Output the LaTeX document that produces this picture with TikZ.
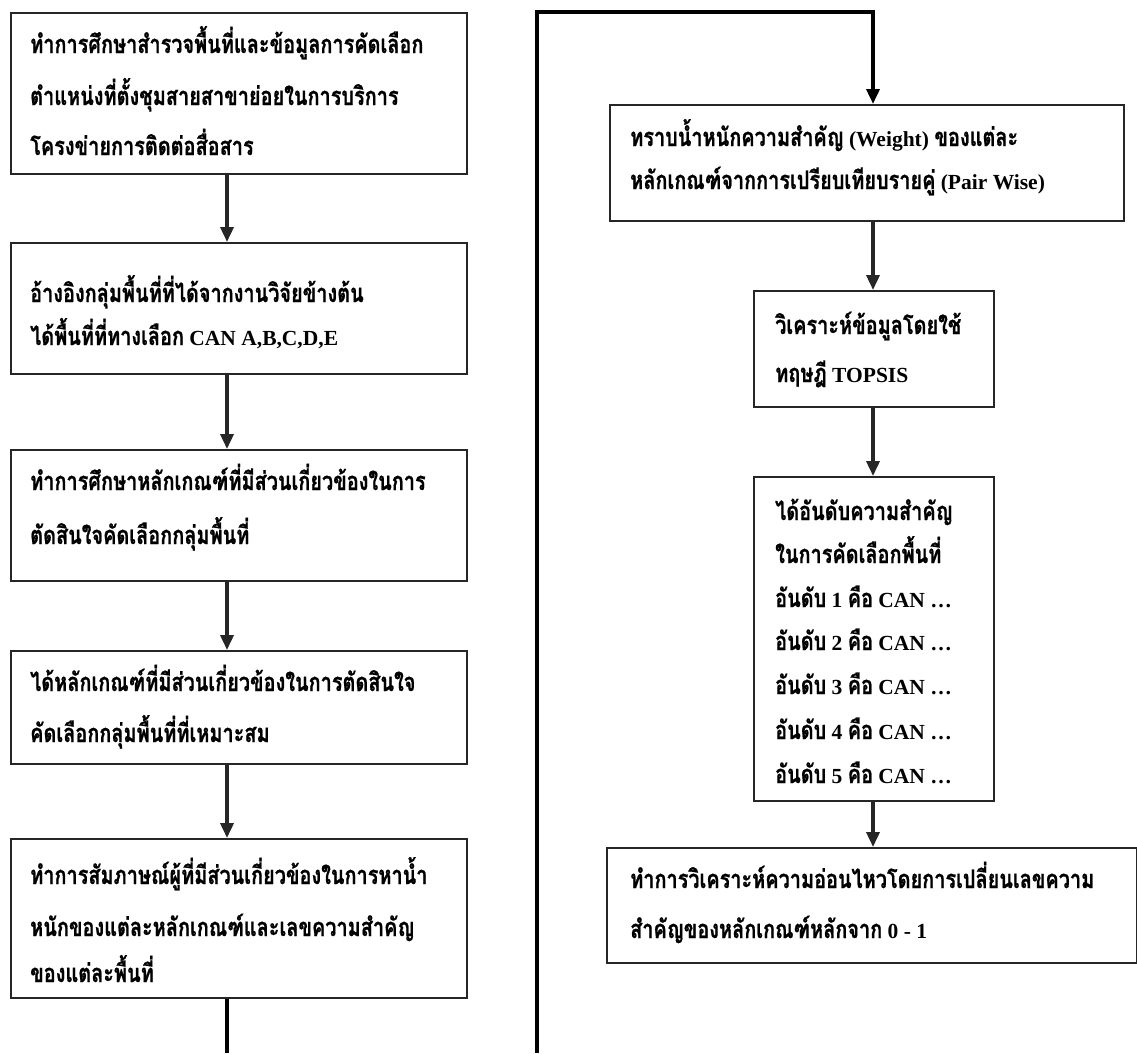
\documentclass[tikz,border=0pt]{standalone}
\usepackage{fontspec}
\setmainfont{Liberation Serif}
\newfontfamily\thaifont[Script=Thai,FakeStretch=0.78,FakeBold=0.7]{Loma}
\usetikzlibrary{arrows.meta}
\newcommand\thx[1]{{\thaifont\fontsize{25.5pt}{28pt}\selectfont #1}}
\tikzset{
  box/.style={draw=black!85, line width=1.8pt, inner sep=0pt, anchor=north west, fill=white},
  txt/.style={inner sep=0pt, anchor=base west, font=\fontsize{21.5pt}{24pt}\selectfont\bfseries},
  arr/.style={draw=black!85, line width=3.5pt, -{Triangle[width=13pt,length=15pt]}},
  conn/.style={draw=black, line width=3.5pt},
}
\begin{document}
\begin{tikzpicture}[x=1pt,y=-1pt]
\path[use as bounding box, fill=white] (0,0) rectangle (1137,1053);
% left column boxes
\node[box, minimum width=456pt, minimum height=161pt] (B1) at (10,12) {};
\node[box, minimum width=456pt, minimum height=131pt] (B2) at (10,242) {};
\node[box, minimum width=456pt, minimum height=131pt] (B3) at (10,449) {};
\node[box, minimum width=456pt, minimum height=113pt] (B4) at (10,650) {};
\node[box, minimum width=456pt, minimum height=159pt] (B5) at (10,838) {};
% right column boxes
\node[box, minimum width=514pt, minimum height=116pt] (B6) at (609,104) {};
\node[box, minimum width=240pt, minimum height=116pt] (B7) at (753,290) {};
\node[box, minimum width=240pt, minimum height=324pt] (B8) at (753,476) {};
\node[box, minimum width=530pt, minimum height=115pt] (B9) at (606,847) {};
% coordinates
\coordinate (cL) at (227,1053);
\coordinate (cV) at (537,1053);
\coordinate (cT) at (537,12);
\coordinate (cR) at (873,12);
% texts
\node[txt] (t11) at (30,53) {\thx{ทำการศึกษาสำรวจพื้นที่และข้อมูลการคัดเลือก}};
\node[txt] (t12) at (30,105) {\thx{ตำแหน่งที่ตั้งชุมสายสาขาย่อยในการบริการ}};
\node[txt] (t13) at (30,155) {\thx{โครงข่ายการติดต่อสื่อสาร}};
\node[txt] (t21) at (30,302) {\thx{อ้างอิงกลุ่มพื้นที่ที่ได้จากงานวิจัยข้างต้น}};
\node[txt] (t22) at (30,345) {\thx{ได้พื้นที่ที่ทางเลือก} CAN A,B,C,D,E};
\node[txt] (t31) at (30,490) {\thx{ทำการศึกษาหลักเกณฑ์ที่มีส่วนเกี่ยวข้องในการ}};
\node[txt] (t32) at (30,544) {\thx{ตัดสินใจคัดเลือกกลุ่มพื้นที่}};
\node[txt] (t41) at (30,691) {\thx{ได้หลักเกณฑ์ที่มีส่วนเกี่ยวข้องในการตัดสินใจ}};
\node[txt] (t42) at (30,742) {\thx{คัดเลือกกลุ่มพื้นที่ที่เหมาะสม}};
\node[txt] (t51) at (30,884) {\thx{ทำการสัมภาษณ์ผู้ที่มีส่วนเกี่ยวข้องในการหาน้ำ}};
\node[txt] (t52) at (30,936) {\thx{หนักของแต่ละหลักเกณฑ์และเลขความสำคัญ}};
\node[txt] (t53) at (30,982) {\thx{ของแต่ละพื้นที่}};
\node[txt] (t61) at (630,146) {\thx{ทราบน้ำหนักความสำคัญ} (Weight) \thx{ของแต่ละ}};
\node[txt] (t62) at (630,189) {\thx{หลักเกณฑ์จากการเปรียบเทียบรายคู่} (Pair Wise)};
\node[txt] (t71) at (775,334) {\thx{วิเคราะห์ข้อมูลโดยใช้}};
\node[txt] (t72) at (775,382) {\thx{ทฤษฎี} TOPSIS};
\node[txt] (t81) at (775,520) {\thx{ได้อันดับความสำคัญ}};
\node[txt] (t82) at (775,563) {\thx{ในการคัดเลือกพื้นที่}};
\node[txt] (t83) at (775,607) {\thx{อันดับ} 1 \thx{คือ} CAN …};
\node[txt] (t84) at (775,650) {\thx{อันดับ} 2 \thx{คือ} CAN …};
\node[txt] (t85) at (775,694) {\thx{อันดับ} 3 \thx{คือ} CAN …};
\node[txt] (t86) at (775,739) {\thx{อันดับ} 4 \thx{คือ} CAN …};
\node[txt] (t87) at (775,783) {\thx{อันดับ} 5 \thx{คือ} CAN …};
\node[txt] (t91) at (630,888) {\thx{ทำการวิเคราะห์ความอ่อนไหวโดยการเปลี่ยนเลขความ}};
\node[txt] (t92) at (630,938) {\thx{สำคัญของหลักเกณฑ์หลักจาก} 0 - 1};
% connectors left
\draw[arr] (B1.south -| cL) -- (B2.north -| cL);
\draw[arr] (B2.south -| cL) -- (B3.north -| cL);
\draw[arr] (B3.south -| cL) -- (B4.north -| cL);
\draw[arr] (B4.south -| cL) -- (B5.north -| cL);
\draw[conn] (B5.south -| cL) -- (cL);
% long connector to right column
\draw[arr, draw=black] (cV) -- (cT) -- (cR) -- (B6.north -| cR);
% right column
\draw[arr] (B6.south -| cR) -- (B7.north -| cR);
\draw[arr] (B7.south -| cR) -- (B8.north -| cR);
\draw[arr] (B8.south -| cR) -- (B9.north -| cR);
\end{tikzpicture}
\end{document}
